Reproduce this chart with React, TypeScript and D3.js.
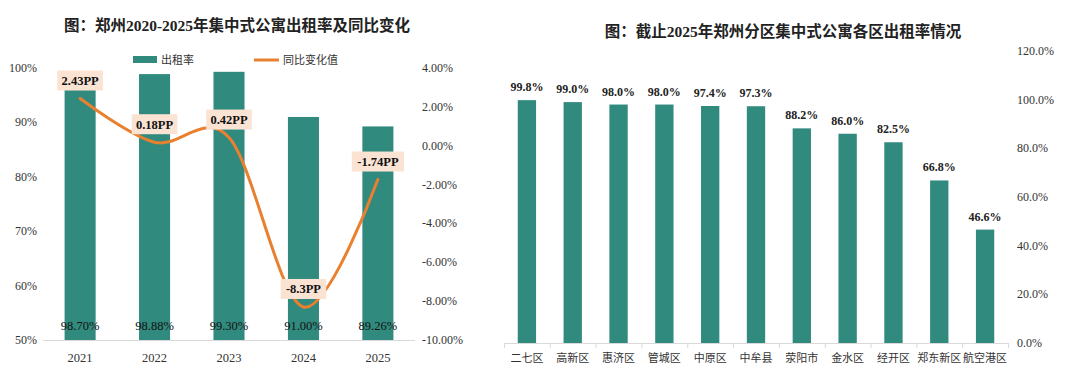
import React from "react";
import * as d3 from "d3";

const years = ["2021", "2022", "2023", "2024", "2025"];
const occupancy = [98.7, 98.88, 99.3, 91.0, 89.26];
const occupancyLabels = ["98.70%", "98.88%", "99.30%", "91.00%", "89.26%"];
const yoyChange = [2.43, 0.18, 0.42, -8.3, -1.74];
const yoyLabels = ["2.43PP", "0.18PP", "0.42PP", "-8.3PP", "-1.74PP"];
const leftTicks = [50, 60, 70, 80, 90, 100];
const rightTicks = [-10, -8, -6, -4, -2, 0, 2, 4];

const districts = ["二七区", "高新区", "惠济区", "管城区", "中原区", "中牟县", "荥阳市", "金水区", "经开区", "郑东新区", "航空港区"];
const districtRates = [99.8, 99.0, 98.0, 98.0, 97.4, 97.3, 88.2, 86.0, 82.5, 66.8, 46.6];
const districtTicks = [0, 20, 40, 60, 80, 100, 120];

const TEAL = "#318a7e";
const ORANGE = "#e9802f";
const PEACH = "#fbe3d4";
const FONT = "'Liberation Serif', 'Noto Sans CJK SC', serif";
const CJK = "'Noto Sans CJK SC', sans-serif";

export default function App() {
  // Left chart
  const x1 = d3.scaleBand<string>().domain(years).range([43, 415]).paddingInner(0.583).paddingOuter(0.29);
  const yL = d3.scaleLinear().domain([50, 100]).range([340, 68]);
  const yR = d3.scaleLinear().domain([-10, 4]).range([340, 68]);
  const cx = (i: number) => (x1(years[i]) as number) + x1.bandwidth() / 2;
  const line = d3
    .line<number>()
    .x((_, i) => cx(i))
    .y((d) => yR(d))
    .curve(d3.curveCatmullRom.alpha(0));
  const linePath = line(yoyChange) || "";

  // Right chart
  const x2 = d3.scaleBand<string>().domain(districts).range([504, 1008]).paddingInner(0.6).paddingOuter(0.3);
  const x2axis = d3.scaleBand<string>().domain(districts).range([504, 1008]);
  const y2 = d3.scaleLinear().domain([0, 120]).range([343, 51]);

  return (
    <svg width={1080} height={375} style={{ display: "block", position: "absolute", left: 0, top: 0 }}>
      <rect width={1080} height={375} fill="#fff" />
      {/* Left title */}
      <text x={237} y={31} textAnchor="middle" fontFamily={FONT} fontWeight="bold" fontSize={15.5} fill="#222">
        图：郑州2020-2025年集中式公寓出租率及同比变化
      </text>
      {/* Legend */}
      <rect x={133} y={56} width={24} height={7} fill={TEAL} />
      <text x={161} y={64} fontFamily={CJK} fontSize={11} fill="#333">出租率</text>
      <line x1={254} x2={279} y1={60} y2={60} stroke={ORANGE} strokeWidth={3} />
      <text x={283} y={64} fontFamily={CJK} fontSize={11} fill="#333">同比变化值</text>

      {/* left axis ticks */}
      {leftTicks.map((t) => (
        <text key={t} x={37} y={yL(t) + 4} textAnchor="end" fontFamily={FONT} fontSize={12} fill="#333">
          {t}%
        </text>
      ))}
      {rightTicks.map((t) => (
        <text key={t} x={422} y={yR(t) + 4} textAnchor="start" fontFamily={FONT} fontSize={12} fill="#333">
          {t.toFixed(2)}%
        </text>
      ))}
      {/* bars */}
      {years.map((yr, i) => (
        <rect key={yr} x={x1(yr)} y={yL(occupancy[i])} width={x1.bandwidth()} height={yL(50) - yL(occupancy[i])} fill={TEAL} />
      ))}
      <line x1={43} x2={415} y1={340.5} y2={340.5} stroke="#d9d9d9" strokeWidth={1} />
      {years.map((yr, i) => (
        <text key={yr} x={cx(i)} y={362} textAnchor="middle" fontFamily={FONT} fontSize={12.5} fill="#333">
          {yr}
        </text>
      ))}
      {years.map((yr, i) => (
        <text key={yr + "l"} x={cx(i)} y={330} textAnchor="middle" fontFamily={FONT} fontSize={12.5} fill="#111">
          {occupancyLabels[i]}
        </text>
      ))}
      <path d={linePath} fill="none" stroke={ORANGE} strokeWidth={3} strokeLinecap="round" />
      {yoyChange.map((v, i) => {
        const w = yoyLabels[i].length * 6.6 + 6;
        const ly = yR(v) - 18;
        return (
          <g key={i}>
            <rect x={cx(i) - w / 2} y={ly - 10} width={w} height={20} fill={PEACH} />
            <text x={cx(i)} y={ly + 4.5} textAnchor="middle" fontFamily={FONT} fontWeight="bold" fontSize={12.5} fill="#111">
              {yoyLabels[i]}
            </text>
          </g>
        );
      })}

      {/* Right title */}
      <text x={783} y={37} textAnchor="middle" fontFamily={FONT} fontWeight="bold" fontSize={15.5} fill="#222">
        图：截止2025年郑州分区集中式公寓各区出租率情况
      </text>
      {districtTicks.map((t) => (
        <text key={t} x={1017} y={y2(t) + 4} textAnchor="start" fontFamily={FONT} fontSize={12} fill="#333">
          {t.toFixed(1)}%
        </text>
      ))}
      {districts.map((d, i) => (
        <g key={d}>
          <rect x={x2(d)} y={y2(districtRates[i])} width={x2.bandwidth()} height={y2(0) - y2(districtRates[i])} fill={TEAL} />
          <text
            x={(x2(d) as number) + x2.bandwidth() / 2}
            y={y2(districtRates[i]) - 9}
            textAnchor="middle"
            fontFamily={FONT}
            fontWeight="bold"
            fontSize={12}
            fill="#222"
          >
            {districtRates[i].toFixed(1)}%
          </text>
          <text
            x={(x2axis(d) as number) + x2axis.bandwidth() / 2}
            y={362}
            textAnchor="middle"
            fontFamily={CJK}
            fontSize={11}
            fill="#333"
          >
            {d}
          </text>
        </g>
      ))}
      <line x1={504} x2={1008} y1={343.5} y2={343.5} stroke="#d9d9d9" strokeWidth={1} />
      {[...districts.map((d) => x2axis(d) as number), 1008].map((xv, i) => (
        <line key={i} x1={xv + 0.5} x2={xv + 0.5} y1={343} y2={348} stroke="#d9d9d9" strokeWidth={1} />
      ))}
    </svg>
  );
}
